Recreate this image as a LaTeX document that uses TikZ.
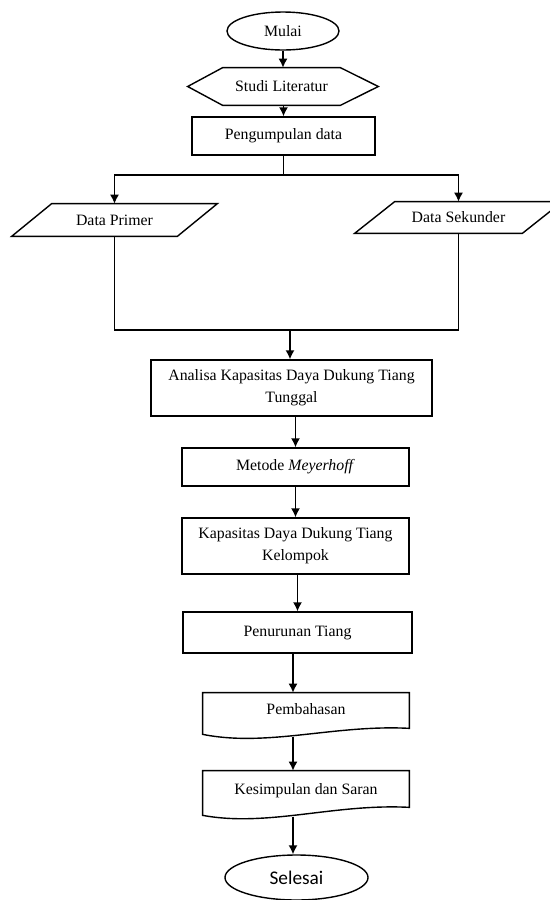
\documentclass[tikz,border=0pt]{standalone}
\usepackage{fontspec}
\setmainfont{Liberation Serif}
\newfontfamily\selesaifont{Carlito}
\usetikzlibrary{shapes.geometric,arrows.meta}

\tikzset{
  flowline/.style={line width=0.028cm},
  flowarrow/.style={line width=0.028cm, -{Latex[length=0.18cm,width=0.18cm]}},
  procbox/.style={draw, line width=0.028cm, rectangle, inner sep=0pt, align=center},
  plainbox/.style={rectangle, inner sep=0pt, align=center},
  terminal/.style={draw, line width=0.028cm, ellipse, inner sep=0pt},
}

\begin{document}
\begin{tikzpicture}
                    \useasboundingbox (0,0) rectangle (11,-18);
                    \clip (0,0) rectangle (11,-18);
                    {\fontsize{9}{12.5}\selectfont

                    % Drawing terminal Mulai
                    \node [terminal, minimum width=2.24cm, minimum height=0.76cm] (mulai) at (5.66,-0.62) {Mulai};%

                    % Drawing preparation Studi Literatur
                    \node [plainbox, minimum width=2.34cm, minimum height=0.74cm] (studi) at (5.63,-1.73) {Studi Literatur};%
                    \draw [flowline] (studi.north west) -- (studi.north east) -- ([xshift=0.76cm]studi.east) -- (studi.south east) -- (studi.south west) -- ([xshift=-0.70cm]studi.west) -- cycle;%

                    % Drawing process Pengumpulan data
                    \node [procbox, minimum width=3.66cm, minimum height=0.76cm] (peng) at (5.67,-2.72) {Pengumpulan data};%

                    % Drawing data Data Primer
                    \node [plainbox, minimum width=3.30cm, minimum height=0.64cm] (primer) at (2.29,-4.40) {Data Primer};%
                    \draw [flowline] ([xshift=0.40cm]primer.north west) -- ([xshift=0.40cm]primer.north east) -- ([xshift=-0.40cm]primer.south east) -- ([xshift=-0.40cm]primer.south west) -- cycle;%

                    % Drawing data Data Sekunder
                    \node [plainbox, minimum width=3.34cm, minimum height=0.62cm] (sekunder) at (9.17,-4.35) {Data Sekunder};%
                    \draw [flowline] ([xshift=0.40cm]sekunder.north west) -- ([xshift=0.40cm]sekunder.north east) -- ([xshift=-0.40cm]sekunder.south east) -- ([xshift=-0.40cm]sekunder.south west) -- cycle;%

                    % Drawing process Analisa
                    \node [procbox, minimum width=5.62cm, minimum height=1.12cm] (analisa) at (5.83,-7.76) {Analisa Kapasitas Daya Dukung Tiang\\Tunggal};%

                    % Drawing process Metode
                    \node [procbox, minimum width=4.54cm, minimum height=0.76cm] (metode) at (5.91,-9.34) {Metode \textit{Meyerhoff}};%

                    % Drawing process Kapasitas
                    \node [procbox, minimum width=4.54cm, minimum height=1.12cm] (kapasitas) at (5.91,-10.92) {Kapasitas Daya Dukung Tiang\\Kelompok};%

                    % Drawing process Penurunan Tiang
                    \node [procbox, minimum width=4.58cm, minimum height=0.82cm] (penurunan) at (5.95,-12.65) {Penurunan Tiang};%

                    % Drawing document Pembahasan
                    \node [plainbox, minimum width=4.12cm, text height=0.42cm, text depth=0.46cm] (pemb) at (6.12,-14.30) {Pembahasan};%
                    \draw [flowline] (pemb.north west) -- (pemb.north east) -- ([yshift=0.18cm]pemb.south east) .. controls ([xshift=-1.5cm,yshift=0.26cm]pemb.south east) and ([xshift=1.3cm,yshift=-0.20cm]pemb.south west) .. ([yshift=0.06cm]pemb.south west) -- cycle;%

                    % Drawing document Kesimpulan dan Saran
                    \node [plainbox, minimum width=4.12cm, text height=0.47cm, text depth=0.45cm] (kesim) at (6.12,-15.88) {Kesimpulan dan Saran};%
                    \draw [flowline] (kesim.north west) -- (kesim.north east) -- ([yshift=0.20cm]kesim.south east) .. controls ([xshift=-1.5cm,yshift=0.28cm]kesim.south east) and ([xshift=1.3cm,yshift=-0.20cm]kesim.south west) .. ([yshift=0.04cm]kesim.south west) -- cycle;%

                    % Drawing terminal Selesai
                    \node [terminal, minimum width=2.86cm, minimum height=0.90cm, font=\selesaifont\fontsize{11}{13}\selectfont] (selesai) at (5.93,-17.55) {Selesai};%

                    % Drawing connectors
                    \draw [flowarrow] (mulai.south) -- (mulai.south |- studi.north);%
                    \draw [flowarrow] (peng.north |- studi.south) -- (peng.north);%
                    \coordinate (split) at (5.67,-3.50);%
                    \draw [flowline] (peng.south) -- (split);%
                    \draw [flowarrow] (split) -| (primer.north);%
                    \draw [flowarrow] (split) -| (sekunder.north);%
                    \coordinate (merge) at (5.80,-6.60);%
                    \draw [flowline] (primer.south) |- (merge) -| (sekunder.south);%
                    \draw [flowarrow] (merge) -- (merge |- analisa.north);%
                    \draw [flowarrow] (metode.north |- analisa.south) -- (metode.north);%
                    \draw [flowarrow] (metode.south) -- (kapasitas.north);%
                    \draw [flowarrow] (penurunan.north |- kapasitas.south) -- (penurunan.north);%
                    \coordinate (axis) at (5.86,-12.00);%
                    \draw [flowarrow] (penurunan.south -| axis) -- (pemb.north -| axis);%
                    \draw [flowarrow] (pemb.south -| axis) -- (kesim.north -| axis);%
                    \draw [flowarrow] (kesim.south -| axis) -- (selesai.north -| axis);%
                    }
\end{tikzpicture}
\end{document}
